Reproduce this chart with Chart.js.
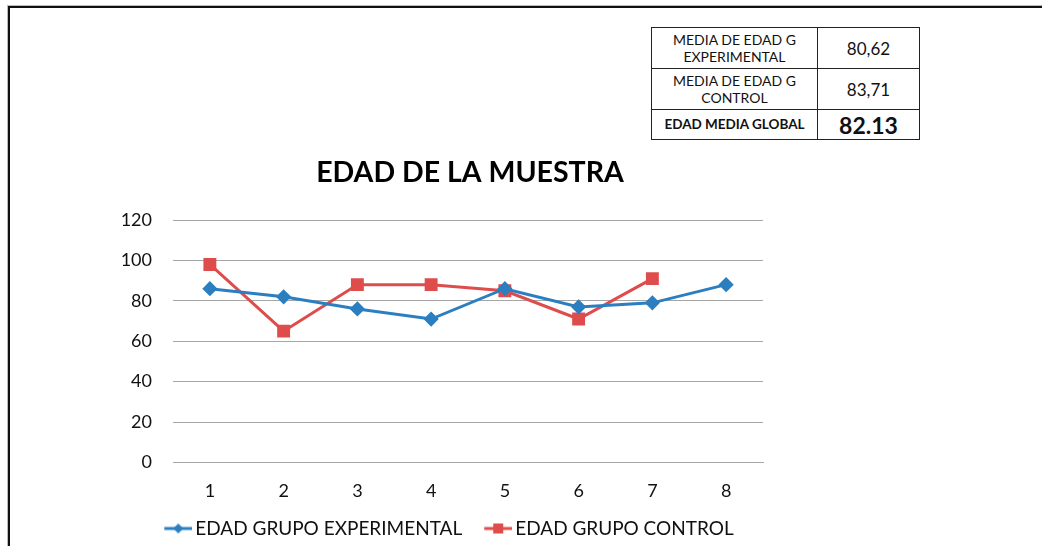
<!DOCTYPE html>
<html>
<head>
<meta charset="utf-8">
<script src="https://cdn.jsdelivr.net/npm/chart.js@4"></script>
<style>
  html, body { margin: 0; padding: 0; background: #fff; }
  body { width: 1042px; height: 546px; position: relative; overflow: hidden; font-family: Lato, "Open Sans", sans-serif; }
  #frame { position: absolute; left: 8px; top: 6px; width: 1100px; height: 600px; border-top: 2px solid #111; border-left: 2px solid #111; box-shadow: -1px -1px 0 #bbb; }
  #c { position: absolute; left: 0; top: 0; }
  table.stats { position: absolute; left: 651px; top: 27px; border-collapse: collapse; background: #fff; }
  table.stats td { border: 1px solid #222; text-align: center; color: #111; padding: 0; }
  table.stats td.lab { width: 165px; font-size: 14px; line-height: 17px; }
  table.stats td.val { width: 101px; font-size: 17px; }
  table.stats tr.r1 td { height: 40px; }
  table.stats tr.r2 td { height: 40px; }
  table.stats tr.r3 td { height: 29px; }
  table.stats tr.r3 td.lab { font-size: 13.5px; font-weight: bold; }
  table.stats tr.r3 td.val { font-size: 23px; font-weight: bold; }
</style>
</head>
<body>
<div id="frame"></div>
<canvas id="c" width="1042" height="548"></canvas>
<table class="stats">
  <tr class="r1"><td class="lab">MEDIA DE EDAD G<br>EXPERIMENTAL</td><td class="val">80,62</td></tr>
  <tr class="r2"><td class="lab">MEDIA DE EDAD G<br>CONTROL</td><td class="val">83,71</td></tr>
  <tr class="r3"><td class="lab">EDAD MEDIA GLOBAL</td><td class="val">82.13</td></tr>
</table>
<script>
const categories = ["1", "2", "3", "4", "5", "6", "7", "8"];
const experimental = [86, 82, 76, 71, 86, 77, 79, 88];
const control = [98, 65, 88, 88, 85, 71, 91, null];
const seriesNames = ["EDAD GRUPO EXPERIMENTAL", "EDAD GRUPO CONTROL"];
const chartTitle = "EDAD DE LA MUESTRA";
const yTicks = [0, 20, 40, 60, 80, 100, 120];

const BLUE = "#2b7fc1";
const RED = "#df4c4c";
const FONT = "Lato, 'Open Sans', sans-serif";

// legend icon: visible line+marker occupies the right 28px of a 40px image
function legendIcon(color, shape) {
  const cv = document.createElement("canvas");
  cv.width = 40; cv.height = 12;
  const g = cv.getContext("2d");
  g.strokeStyle = color; g.lineWidth = 3;
  g.beginPath(); g.moveTo(12, 6); g.lineTo(40, 6); g.stroke();
  g.fillStyle = color;
  if (shape === "diamond") {
    g.beginPath(); g.moveTo(26, 1); g.lineTo(31, 6); g.lineTo(26, 11); g.lineTo(21, 6); g.closePath(); g.fill();
  } else {
    g.fillRect(21, 1, 10, 10);
  }
  return cv;
}
const icons = [legendIcon(BLUE, "diamond"), legendIcon(RED, "square")];

const titlePlugin = {
  id: "centeredTitle",
  afterDraw(chart) {
    const ctx = chart.ctx, a = chart.chartArea;
    ctx.save();
    ctx.font = "bold 28.5px " + FONT;
    ctx.fillStyle = "#000";
    ctx.textAlign = "center";
    ctx.textBaseline = "middle";
    ctx.fillText(chartTitle, (a.left + a.right) / 2 + 2, 173);
    ctx.restore();
  }
};

new Chart(document.getElementById("c"), {
  type: "line",
  data: {
    labels: categories,
    datasets: [
      { label: seriesNames[0], data: experimental, borderColor: BLUE, backgroundColor: BLUE,
        borderWidth: 3, pointStyle: "rectRot", pointRadius: 5.5, pointHoverRadius: 5.5, tension: 0 },
      { label: seriesNames[1], data: control, borderColor: RED, backgroundColor: RED,
        borderWidth: 3, pointStyle: "rect", pointRadius: 7, pointHoverRadius: 7, tension: 0 }
    ]
  },
  plugins: [titlePlugin],
  options: {
    responsive: false,
    animation: false,
    layout: { padding: { left: 0, right: 149.5, top: 220, bottom: 0 } },
    plugins: {
      title: { display: false },
      legend: {
        position: "bottom",
        labels: {
          color: "#111", font: { family: FONT, size: 19 }, usePointStyle: true, pointStyleWidth: 27, padding: 16.5,
          generateLabels: (chart) => chart.data.datasets.map((ds, i) => ({
            text: ds.label, pointStyle: icons[i], fillStyle: ds.borderColor, strokeStyle: ds.borderColor,
            lineWidth: 0, hidden: false, datasetIndex: i, fontColor: "#111"
          }))
        }
      },
      tooltip: { enabled: false }
    },
    scales: {
      x: {
        offset: true,
        afterFit: (s) => { s.height = 40; },
        grid: { display: false, drawTicks: false },
        border: { color: "#a6a6a6", width: 1 },
        ticks: { color: "#111", font: { family: FONT, size: 18 }, padding: 18 }
      },
      y: {
        min: 0, max: 120,
        afterBuildTicks: (s) => { s.ticks = yTicks.map(v => ({ value: v })); },
        afterFit: (s) => { s.width = 173; },
        grid: { color: "#a6a6a6", drawTicks: false },
        border: { display: false },
        ticks: { color: "#111", font: { family: FONT, size: 18 }, padding: 21 }
      },
      yRight: {
        position: "right",
        display: true,
        afterFit: (s) => { s.width = 129.5; },
        grid: { display: false, drawTicks: false },
        border: { display: false },
        ticks: { display: false }
      }
    }
  }
});
</script>
</body>
</html>
